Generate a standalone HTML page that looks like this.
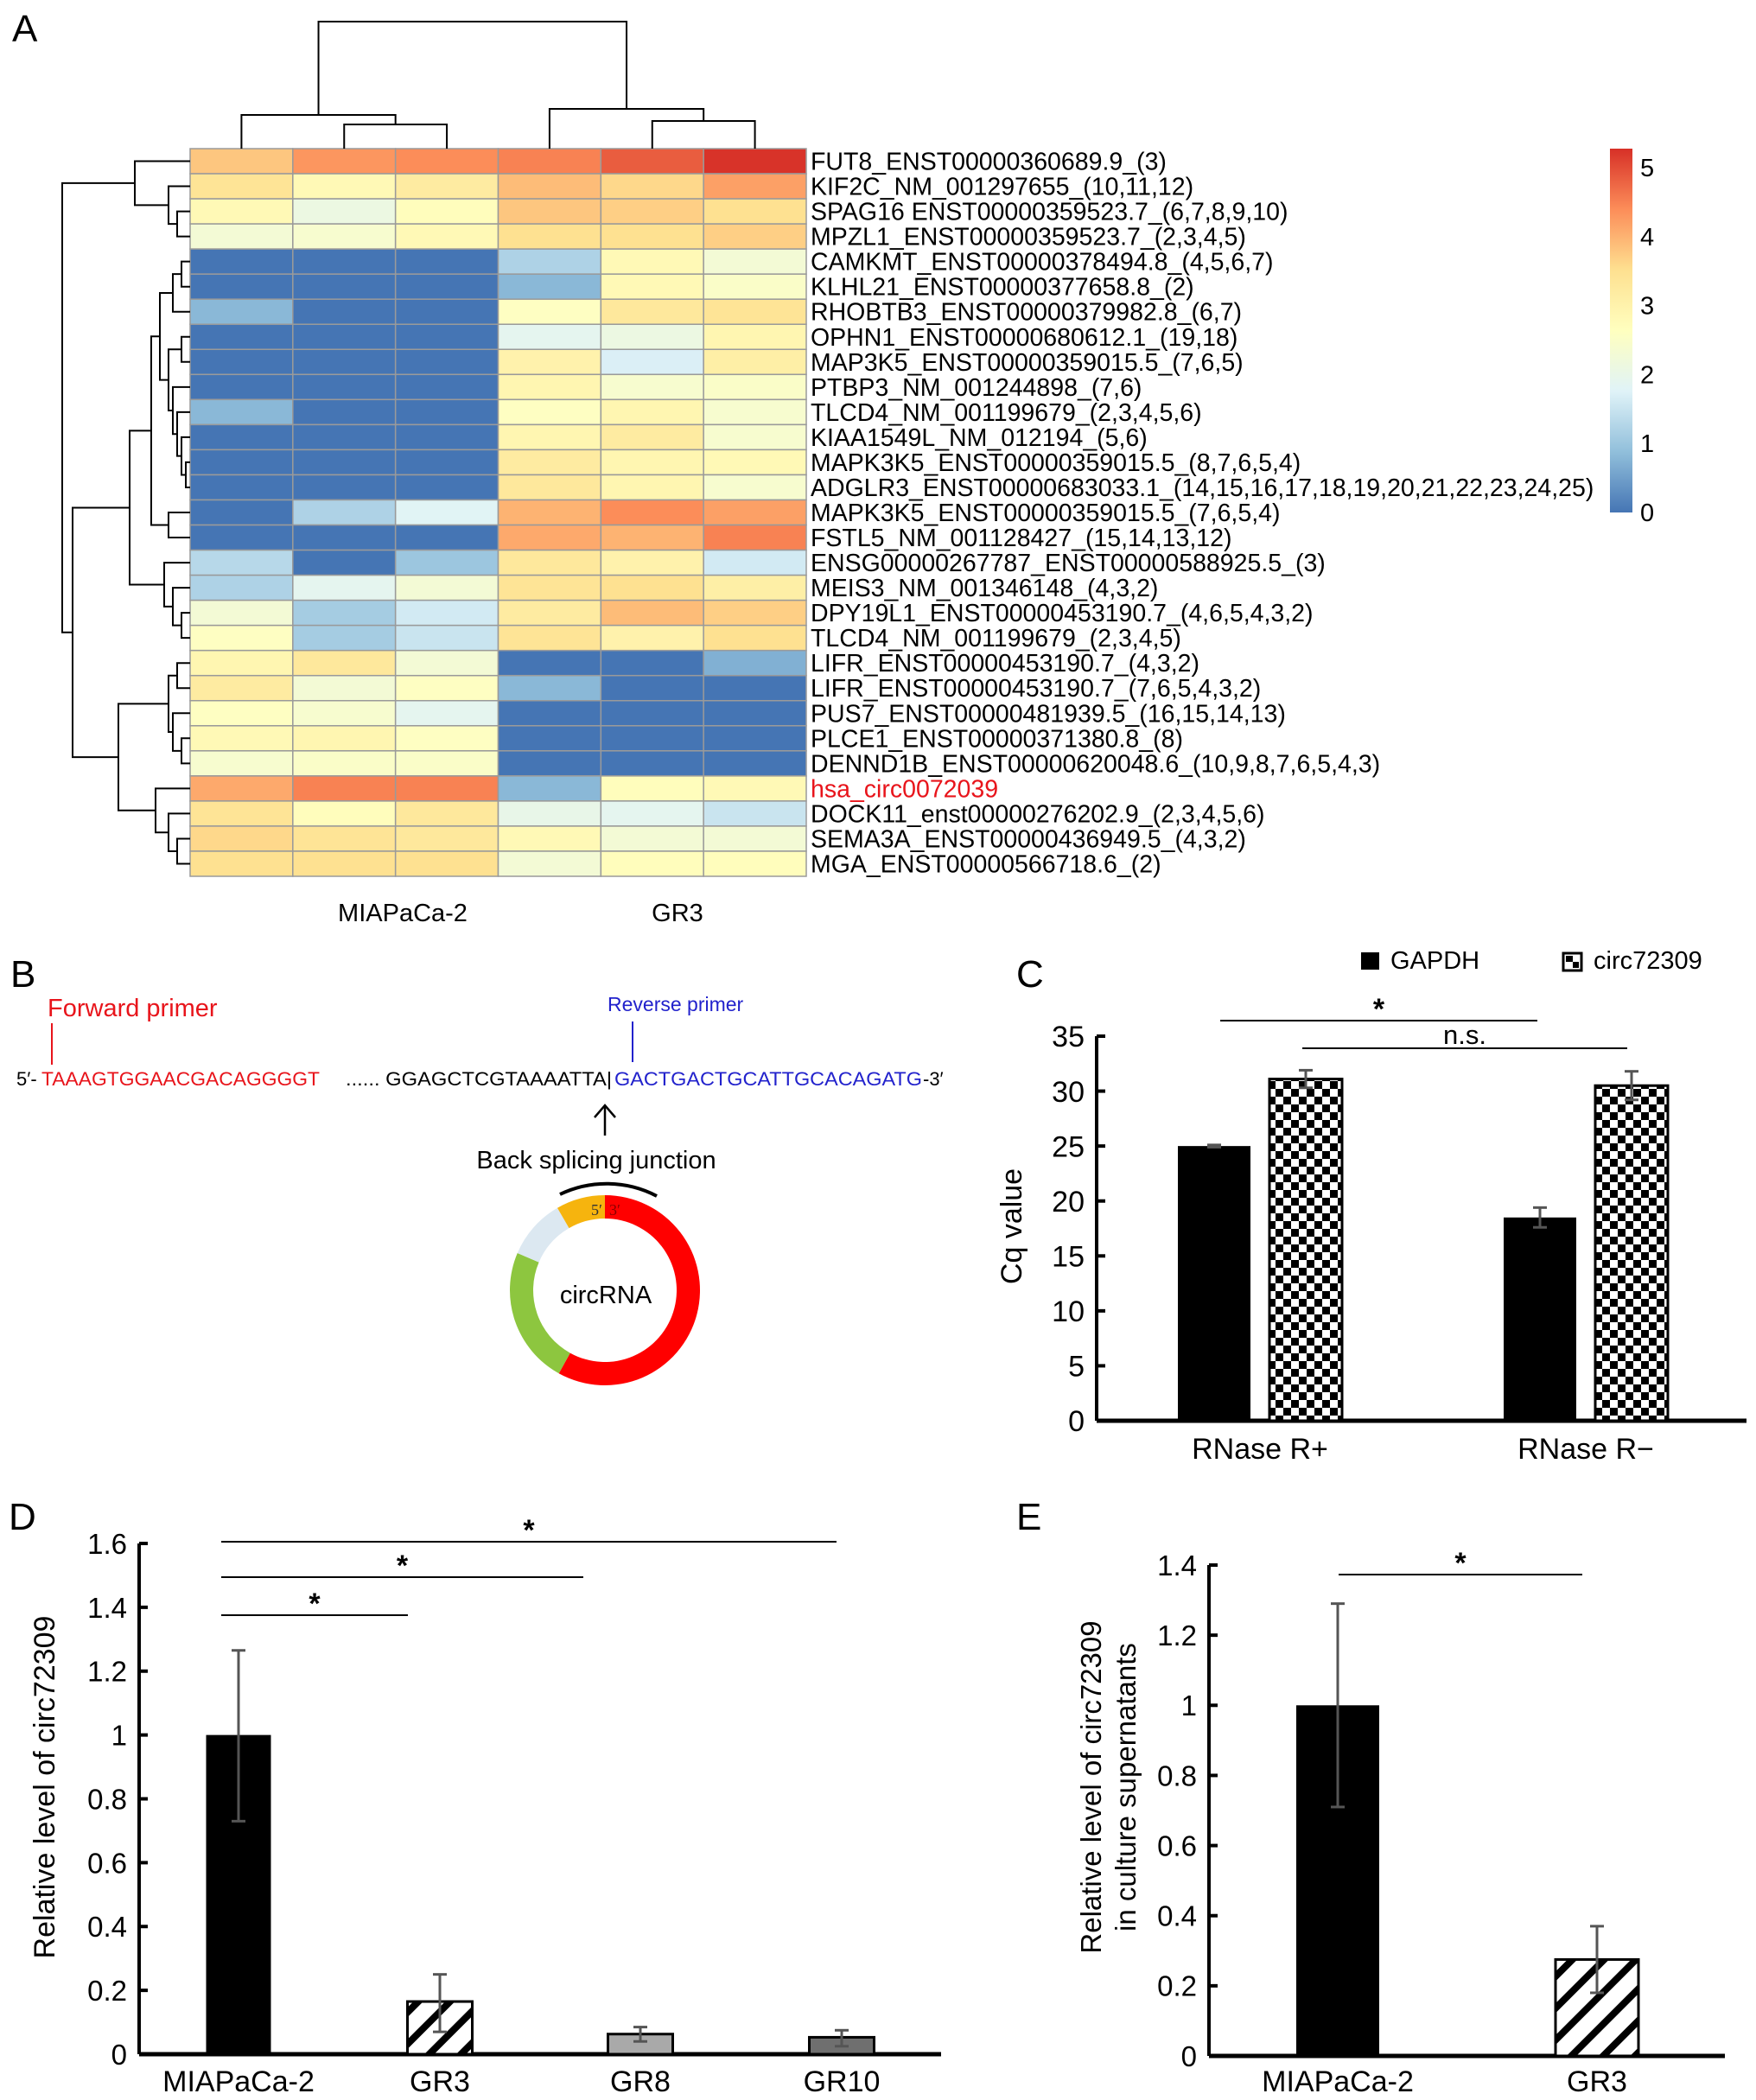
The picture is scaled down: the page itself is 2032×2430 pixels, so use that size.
<!DOCTYPE html>
<html><head><meta charset="utf-8">
<style>
html,body{margin:0;padding:0;background:#fff;}
svg{display:block;font-family:"Liberation Sans",Arial,sans-serif;}
</style></head>
<body>
<svg id="fig" width="2032" height="2430" viewBox="0 0 2032 2430" xmlns="http://www.w3.org/2000/svg">
<defs>
<pattern id="checker" width="18" height="18" patternUnits="userSpaceOnUse">
<rect width="18" height="18" fill="#fff"/><rect width="9" height="9" fill="#000"/><rect x="9" y="9" width="9" height="9" fill="#000"/>
</pattern>
<pattern id="hatch" width="26" height="26" patternUnits="userSpaceOnUse" patternTransform="rotate(45)">
<rect width="26" height="26" fill="#fff"/><rect x="0" y="0" width="8" height="26" fill="#000"/>
</pattern>
<linearGradient id="cbar" x1="0" y1="1" x2="0" y2="0">
<stop offset="0" stop-color="#4575B4"/><stop offset="0.1667" stop-color="#91BFDB"/><stop offset="0.3333" stop-color="#E0F3F8"/><stop offset="0.5" stop-color="#FFFFBF"/><stop offset="0.6667" stop-color="#FEE090"/><stop offset="0.8333" stop-color="#FC8D59"/><stop offset="1" stop-color="#D73027"/>
</linearGradient>
</defs>

<text x="14" y="48" font-size="44">A</text>
<text x="12" y="1142" font-size="44">B</text>
<text x="1176" y="1142" font-size="44">C</text>
<text x="10" y="1770" font-size="44">D</text>
<text x="1176" y="1770" font-size="44">E</text>

<g id="heatmap"></g>
<g id="rowdend" stroke="#000" stroke-width="2" fill="none"></g>
<g id="coldend" stroke="#000" stroke-width="2" fill="none"></g>
<rect x="1863" y="172" width="26" height="421" fill="url(#cbar)"/>
<g id="cbarticks" font-size="29"></g>
<text x="466" y="1066" font-size="29" text-anchor="middle">MIAPaCa-2</text>
<text x="784" y="1066" font-size="29" text-anchor="middle">GR3</text>

<g>
<text x="55" y="1176" font-size="29" fill="#e8141b">Forward primer</text>
<line x1="60" y1="1184" x2="60" y2="1232" stroke="#e8141b" stroke-width="2"/>
<text x="703" y="1170" font-size="23" fill="#2222cc">Reverse primer</text>
<line x1="732" y1="1182" x2="732" y2="1229" stroke="#2222cc" stroke-width="2"/>
<text x="19" y="1256" font-size="22">5′-</text>
<text x="48" y="1256" font-size="22" fill="#e8141b" textLength="322" lengthAdjust="spacingAndGlyphs">TAAAGTGGAACGACAGGGGT</text>
<text x="400" y="1256" font-size="22" textLength="308" lengthAdjust="spacingAndGlyphs">...... GGAGCTCGTAAAATTA|</text>
<text x="711" y="1256" font-size="22" fill="#2222cc" textLength="356" lengthAdjust="spacingAndGlyphs">GACTGACTGCATTGCACAGATG</text>
<text x="1068" y="1256" font-size="22">-3′</text>
<line x1="700" y1="1314" x2="700" y2="1280" stroke="#000" stroke-width="2.5"/>
<polyline points="688,1293 700,1279 712,1293" stroke="#000" stroke-width="2.5" fill="none"/>
<text x="690" y="1352" font-size="29" text-anchor="middle">Back splicing junction</text>
<g id="circ"></g>
<text x="701" y="1508" font-size="29" text-anchor="middle">circRNA</text>
</g>

<g id="panelC"></g>
<g id="panelD"></g>
<g id="panelE"></g>
</svg>

<script>
const NS = "http://www.w3.org/2000/svg";
const rowLabels = ["FUT8_ENST00000360689.9_(3)","KIF2C_NM_001297655_(10,11,12)","SPAG16 ENST00000359523.7_(6,7,8,9,10)","MPZL1_ENST00000359523.7_(2,3,4,5)","CAMKMT_ENST00000378494.8_(4,5,6,7)","KLHL21_ENST00000377658.8_(2)","RHOBTB3_ENST00000379982.8_(6,7)","OPHN1_ENST00000680612.1_(19,18)","MAP3K5_ENST00000359015.5_(7,6,5)","PTBP3_NM_001244898_(7,6)","TLCD4_NM_001199679_(2,3,4,5,6)","KIAA1549L_NM_012194_(5,6)","MAPK3K5_ENST00000359015.5_(8,7,6,5,4)","ADGLR3_ENST00000683033.1_(14,15,16,17,18,19,20,21,22,23,24,25)","MAPK3K5_ENST00000359015.5_(7,6,5,4)","FSTL5_NM_001128427_(15,14,13,12)","ENSG00000267787_ENST00000588925.5_(3)","MEIS3_NM_001346148_(4,3,2)","DPY19L1_ENST00000453190.7_(4,6,5,4,3,2)","TLCD4_NM_001199679_(2,3,4,5)","LIFR_ENST00000453190.7_(4,3,2)","LIFR_ENST00000453190.7_(7,6,5,4,3,2)","PUS7_ENST00000481939.5_(16,15,14,13)","PLCE1_ENST00000371380.8_(8)","DENND1B_ENST00000620048.6_(10,9,8,7,6,5,4,3)","hsa_circ0072039","DOCK11_enst00000276202.9_(2,3,4,5,6)","SEMA3A_ENST00000436949.5_(4,3,2)","MGA_ENST00000566718.6_(2)"];
const heatValues = [
[3.8,4.3,4.4,4.5,4.85,5.25],[3.4,2.8,3.2,3.9,3.6,4.2],[2.8,2.1,2.7,3.8,3.7,3.5],[2.3,2.4,2.8,3.5,3.5,3.7],
[0,0,0,1.2,2.8,2.3],[0,0,0,0.8,2.8,2.5],[0.8,0,0,2.6,3.3,3.4],[0,0,0,1.9,2.1,2.9],[0,0,0,3.0,1.7,3.1],
[0,0,0,2.9,2.4,2.5],[0.8,0,0,2.6,2.9,2.4],[0,0,0,2.9,3.2,2.4],[0,0,0,3.2,2.9,2.8],[0,0,0,3.3,2.9,2.4],
[0,1.2,1.8,4.0,4.4,4.2],[0,0,0,4.1,4.0,4.5],[1.3,0,1.0,3.3,3.0,1.6],[1.2,1.9,2.3,3.4,3.5,3.1],
[2.3,1.1,1.6,3.2,3.9,3.7],[2.6,1.1,1.5,3.4,3.0,3.5],[2.9,3.3,2.3,0,0,0.7],[3.2,2.3,2.6,0.8,0,0],
[2.6,2.4,1.9,0,0,0],[2.8,2.9,2.6,0,0,0],[2.4,2.5,2.5,0,0,0],[4.1,4.5,4.5,0.8,2.7,2.8],
[3.4,2.7,3.3,2.0,1.9,1.5],[3.6,3.4,3.3,2.8,2.3,2.3],[3.5,3.5,3.5,2.3,2.7,2.7]];
const colorbarTicks = [0,1,2,3,4,5];
const palette = ["#4575B4","#91BFDB","#E0F3F8","#FFFFBF","#FEE090","#FC8D59","#D73027"];
const vmax = 5.28;

const cCategories = ["RNase R+","RNase R\u2212"];
const cGapdh = [25.0,18.5];
const cGapdhErr = [0.1,0.9];
const cCirc = [31.1,30.5];
const cCircErr = [0.8,1.3];
const cTicks = [0,5,10,15,20,25,30,35];

const dCategories = ["MIAPaCa-2","GR3","GR8","GR10"];
const dValues = [1.0,0.165,0.063,0.053];
const dErrHigh = [1.265,0.25,0.085,0.075];
const dErrLow = [0.73,0.07,0.04,0.025];
const dTicks = [0,0.2,0.4,0.6,0.8,1,1.2,1.4,1.6];

const eCategories = ["MIAPaCa-2","GR3"];
const eValues = [1.0,0.275];
const eErrHigh = [1.29,0.37];
const eErrLow = [0.71,0.18];
const eTicks = [0,0.2,0.4,0.6,0.8,1,1.2,1.4];

function el(tag, attrs, parent, text){
  const e = document.createElementNS(NS, tag);
  for (const k in attrs) e.setAttribute(k, attrs[k]);
  if (text !== undefined) e.textContent = text;
  parent.appendChild(e);
  return e;
}
function hex2rgb(h){return [parseInt(h.slice(1,3),16),parseInt(h.slice(3,5),16),parseInt(h.slice(5,7),16)];}
function colorFor(v){
  let t = Math.max(0, Math.min(1, v / vmax)) * (palette.length - 1);
  const i = Math.min(palette.length - 2, Math.floor(t)); const f = t - i;
  const a = hex2rgb(palette[i]), b = hex2rgb(palette[i+1]);
  return "rgb(" + a.map((c,k)=>Math.round(c + (b[k]-c)*f)).join(",") + ")";
}

const HX0 = 220, HX1 = 933, HY0 = 172, HY1 = 1014;
const cellW = (HX1 - HX0) / 6, cellH = (HY1 - HY0) / rowLabels.length;
const hm = document.getElementById("heatmap");
heatValues.forEach((row, r) => {
  row.forEach((v, c) => {
    const cell = el("rect", {x: HX0 + c*cellW, y: HY0 + r*cellH, width: cellW, height: cellH, fill: colorFor(v), stroke: "#9a9a9a", "stroke-width": 1.5}, hm);
    
    
  });
  const lab = el("text", {x: HX1 + 5, y: HY0 + (r+0.5)*cellH + 10, "font-size": 28.5, fill: r === 25 ? "#e8141b" : "#000"}, hm, rowLabels[r]);
  
  
});
const cbt = document.getElementById("cbarticks");
colorbarTicks.forEach(t => {
  const y = 593 - t * (593 - 194) / 5;
  const tk = el("text", {x: 1898, y: y + 10}, cbt, String(t));
  
  
});

const rowTree = [72, [156, 0, [195, 1, [205, 2, 3]]],
  [84,
    [150,
      [175,
        [185, [200, [210, 4, 5], 6], [195, [210, 7, 8], [200, 9, [205, 10, [210, 11, [215, 12, 13]]]]]],
        [195, 14, 15]],
      [190, 16, [200, 17, [210, 18, 19]]]],
    [137,
      [195, [205, 20, 21], [200, 22, [210, 23, 24]]],
      [180, 25, [195, 26, [205, 27, 28]]]]]];
const rd = document.getElementById("rowdend");
function drawRow(node){
  if (typeof node === "number") return {x: HX0, y: HY0 + (node+0.5)*cellH};
  const a = drawRow(node[1]), b = drawRow(node[2]), h = node[0];
  el("path", {d: `M${a.x},${a.y}H${h}V${b.y}H${b.x}`}, rd);
  return {x: h, y: (a.y + b.y)/2};
}
drawRow(rowTree);
const colTree = [25, [133, 0, [144, 1, 2]], [126, 3, [140, 4, 5]]];
const cd = document.getElementById("coldend");
function drawCol(node){
  if (typeof node === "number") return {x: HX0 + (node+0.5)*cellW, y: HY0};
  const a = drawCol(node[1]), b = drawCol(node[2]), h = node[0];
  el("path", {d: `M${a.x},${a.y}V${h}H${b.x}V${b.y}`}, cd);
  return {x: (a.x + b.x)/2, y: h};
}
drawCol(colTree);

const circ = document.getElementById("circ");
const CX = 700, CY = 1493, RO = 110, RI = 83;
function arcSeg(a0, a1, color){
  const p = (r, a) => [CX + r*Math.sin(a*Math.PI/180), CY - r*Math.cos(a*Math.PI/180)];
  const large = (a1 - a0) > 180 ? 1 : 0;
  const [x1,y1] = p(RO,a0), [x2,y2] = p(RO,a1), [x3,y3] = p(RI,a1), [x4,y4] = p(RI,a0);
  el("path", {d: `M${x1},${y1}A${RO},${RO} 0 ${large} 1 ${x2},${y2}L${x3},${y3}A${RI},${RI} 0 ${large} 0 ${x4},${y4}Z`, fill: color}, circ);
}
arcSeg(0, 209, "#ff0000");
arcSeg(209, 293, "#8dc63f");
arcSeg(293, 330, "#dce8f1");
arcSeg(330, 360, "#f6b40e");
el("text", {x: 684, y: 1406, "font-size": 18, "font-family": "Liberation Serif, serif", fill: "#333"}, circ, "5′");
el("text", {x: 705, y: 1406, "font-size": 18, "font-family": "Liberation Serif, serif", fill: "#8a0000"}, circ, "3′");
el("path", {d: "M648,1382 A125,125 0 0 1 760,1384", stroke: "#000", "stroke-width": 4, fill: "none"}, circ);

function yAxis(g, x0, yOf, ticks, fmt, fs, y1){
  el("line", {x1: x0, y1: yOf(ticks[ticks.length-1]) , x2: x0, y2: y1, stroke: "#000", "stroke-width": 4}, g);
  ticks.forEach(t => {
    const y = yOf(t);
    el("line", {x1: x0, y1: y, x2: x0 + 10, y2: y, stroke: "#000", "stroke-width": 4}, g);
    const lab = el("text", {x: x0 - 14, y: y + fs*0.36, "font-size": fs, "text-anchor": "end"}, g, fmt(t));
    
    
  });
}
function errBar(g, cx, yHi, yLo){
  el("line", {x1: cx, y1: yHi, x2: cx, y2: yLo, stroke: "#555", "stroke-width": 3}, g);
  el("line", {x1: cx-8, y1: yHi, x2: cx+8, y2: yHi, stroke: "#555", "stroke-width": 3}, g);
  el("line", {x1: cx-8, y1: yLo, x2: cx+8, y2: yLo, stroke: "#555", "stroke-width": 3}, g);
}
function sig(g, x1, x2, y, label, fs){
  el("line", {x1: x1, y1: y, x2: x2, y2: y, stroke: "#000", "stroke-width": 2}, g);
  el("text", {x: (x1+x2)/2, y: label === "*" ? y - 2 : y - 5, "font-size": fs, "text-anchor": "middle", "font-weight": label === "*" ? "bold" : "normal"}, g, label);
}

(function(){
  const g = document.getElementById("panelC");
  const X0 = 1269, Y0 = 1644, YT = 1199;
  const yOf = v => Y0 - v * (Y0 - YT) / 35;
  yAxis(g, X0, yOf, cTicks, String, 34, Y0);
  el("line", {x1: X0, y1: Y0, x2: 2021, y2: Y0, stroke: "#000", "stroke-width": 5}, g);
  const groupCenters = [1458, 1835];
  const bw = 84;
  cCategories.forEach((c, i) => {
    const gc = groupCenters[i];
    const x1 = gc - bw - 11, x2 = gc + 11;
    const b1 = el("rect", {x: x1, y: yOf(cGapdh[i]), width: bw, height: Y0 - yOf(cGapdh[i]), fill: "#000"}, g);
    
    
    const b2 = el("rect", {x: x2, y: yOf(cCirc[i]), width: bw, height: Y0 - yOf(cCirc[i]), fill: "url(#checker)", stroke: "#000", "stroke-width": 3}, g);
    
    
    errBar(g, x1 + bw/2, yOf(cGapdh[i] + cGapdhErr[i]), yOf(cGapdh[i] - cGapdhErr[i]));
    errBar(g, x2 + bw/2, yOf(cCirc[i] + cCircErr[i]), yOf(cCirc[i] - cCircErr[i]));
    const lab = el("text", {x: gc, y: 1688, "font-size": 34, "text-anchor": "middle"}, g, c);
    
    
  });
  sig(g, 1412, 1779, 1181, "*", 34);
  sig(g, 1507, 1883, 1213, "n.s.", 31);
  const yt = el("text", {x: 0, y: 0, "font-size": 34, "text-anchor": "middle", transform: "translate(1182,1419) rotate(-90)"}, g, "Cq value");
  
  
  const l1 = el("rect", {x: 1575, y: 1102, width: 21, height: 20, fill: "#000"}, g);
  
  
  el("text", {x: 1609, y: 1121, "font-size": 29}, g, "GAPDH");
  const l2 = el("rect", {x: 1809, y: 1103, width: 21, height: 20, fill: "#fff", stroke: "#000", "stroke-width": 3}, g);
  
  
  el("rect", {x: 1812, y: 1106, width: 8, height: 7, fill: "#000"}, g);
  el("rect", {x: 1820, y: 1113, width: 7, height: 7, fill: "#000"}, g);
  el("text", {x: 1844, y: 1121, "font-size": 29}, g, "circ72309");
})();

(function(){
  const g = document.getElementById("panelD");
  const X0 = 161, Y0 = 2377, YT = 1786;
  const yOf = v => Y0 - v * (Y0 - YT) / 1.6;
  yAxis(g, X0, yOf, dTicks, String, 33, Y0);
  el("line", {x1: X0, y1: Y0, x2: 1089, y2: Y0, stroke: "#000", "stroke-width": 5}, g);
  const centers = [276, 509, 741, 974];
  const fills = ["#000", "url(#hatch)", "#a9a9a9", "#6f6f6f"];
  const bw = 75;
  dCategories.forEach((c, i) => {
    const b = el("rect", {x: centers[i] - bw/2, y: yOf(dValues[i]), width: bw, height: Y0 - yOf(dValues[i]), fill: fills[i], stroke: "#000", "stroke-width": i === 0 ? 0 : 3}, g);
    
    
    errBar(g, centers[i], yOf(dErrHigh[i]), yOf(dErrLow[i]));
    const lab = el("text", {x: centers[i], y: 2420, "font-size": 34, "text-anchor": "middle"}, g, c);
    
    
  });
  sig(g, 256, 968, 1784, "*", 34);
  sig(g, 256, 675, 1825, "*", 34);
  sig(g, 256, 472, 1869, "*", 34);
  const yt = el("text", {x: 0, y: 0, "font-size": 34, "text-anchor": "middle", transform: "translate(63,2068) rotate(-90)"}, g, "Relative level of circ72309");
  
  
})();

(function(){
  const g = document.getElementById("panelE");
  const X0 = 1399, Y0 = 2379, YT = 1811;
  const yOf = v => Y0 - v * (Y0 - YT) / 1.4;
  yAxis(g, X0, yOf, eTicks, String, 33, Y0);
  el("line", {x1: X0, y1: Y0, x2: 1996, y2: Y0, stroke: "#000", "stroke-width": 5}, g);
  const centers = [1548, 1848];
  const fills = ["#000", "url(#hatch)"];
  const bw = 96;
  eCategories.forEach((c, i) => {
    const b = el("rect", {x: centers[i] - bw/2, y: yOf(eValues[i]), width: bw, height: Y0 - yOf(eValues[i]), fill: fills[i], stroke: "#000", "stroke-width": i === 0 ? 0 : 3}, g);
    
    
    errBar(g, centers[i], yOf(eErrHigh[i]), yOf(eErrLow[i]));
    const lab = el("text", {x: centers[i], y: 2420, "font-size": 34, "text-anchor": "middle"}, g, c);
    
    
  });
  sig(g, 1549, 1831, 1822, "*", 34);
  const yt = el("text", {x: 0, y: 0, "font-size": 33, "text-anchor": "middle", transform: "translate(1274,2068) rotate(-90)"}, g, "Relative level of circ72309");
  
  
  const yt2 = el("text", {x: 0, y: 0, "font-size": 33, "text-anchor": "middle", transform: "translate(1314,2068) rotate(-90)"}, g, "in culture supernatants");
  
  
})();
</script>
</body></html>
